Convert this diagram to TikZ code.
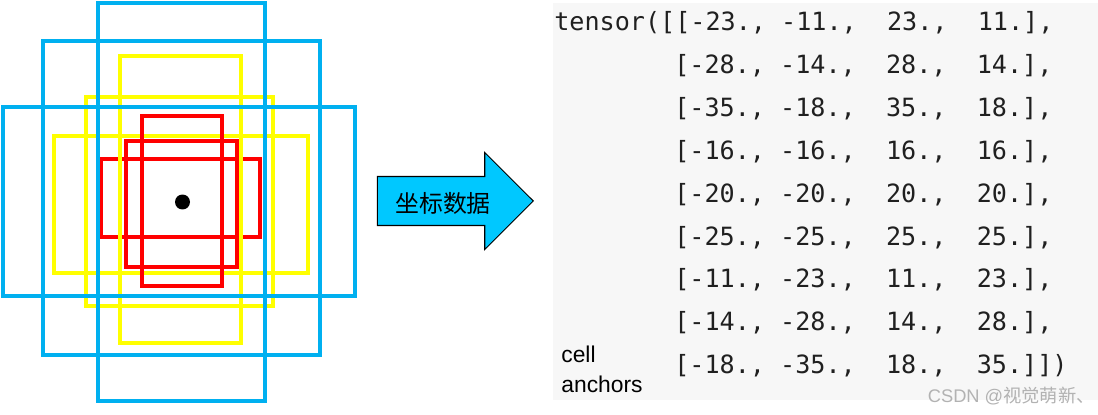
\documentclass[tikz,border=0pt]{standalone}
\usepackage{fontspec}
\setmainfont{Liberation Sans}
\setmonofont{DejaVu Sans Mono}
\newfontfamily\cjk{Noto Sans CJK SC}
\usepackage{xcolor}
\usepackage{tikz}
\usetikzlibrary{shapes.arrows, positioning}

\definecolor{anchorblue}{RGB}{0,176,240}
\definecolor{anchoryellow}{RGB}{255,255,0}
\definecolor{anchorred}{RGB}{255,0,0}
\definecolor{arrowcyan}{RGB}{0,200,255}
\definecolor{panelgray}{RGB}{247,247,247}
\definecolor{codeink}{RGB}{32,32,32}

\begin{document}
\begin{tikzpicture}[x=0.02cm, y=-0.02cm,
    anchorbox/.style={line width=2.2pt},
    coderow/.style={anchor=base west, inner sep=0pt, text=codeink,
        font=\ttfamily\fontsize{14.3pt}{17pt}\selectfont},
    bigarrow/.style={single arrow, draw=black, fill=arrowcyan, line width=0.6pt,
        single arrow tip angle=90, single arrow head extend=0.48cm,
        minimum height=3.12cm, inner sep=0pt, text height=0.48cm, text depth=0.48cm}]
    \useasboundingbox (0,0) rectangle (1098,415);

    % 1. Các khung anchor (vàng, đỏ, xanh) quanh tâm ô
    \foreach \c/\xa/\ya/\xb/\yb in {anchoryellow/86/97/273/306, anchoryellow/54/136/308/273,
        anchorred/142/116/222/286, anchorred/126/141/237/267, anchorred/101/159/260/237,
        anchoryellow/120/56/241/343,
        anchorblue/98/3/265/401, anchorblue/43/41/320/355, anchorblue/3/107/355/296} {
        \draw[anchorbox, \c] (\xa,\ya) rectangle (\xb,\yb);
    }
    \coordinate (ctr) at (182.5,202);
    \fill[black] (ctr) circle (0.15cm);

    % 2. Mũi tên
    \node[bigarrow] (arr) at (443,201) {};
    \node[inner sep=0pt, font=\cjk\fontsize{13.6pt}{14pt}\selectfont] (lbl) at (443,203) {坐标数据};

    % 3. Khung tensor
    \fill[panelgray] (553,3) rectangle (1098,400);
    \node[coderow] (r0) at (554,31) {tensor([[-23.,~-11.,~~23.,~~11.],};
    \foreach \i/\w/\h in {1/28/14, 2/35/18, 3/16/16, 4/20/20, 5/25/25, 6/11/23, 7/14/28} {
        \node[coderow] (r\i) at (674, 31+42.8*\i) {[-\w.,~-\h.,~~\w.,~~\h.],};
    }
    \node[coderow] (r8) at (674, 31+42.8*8) {[-18.,~-35.,~~18.,~~35.]])};

    % 4. Nhãn
    \node[anchor=north west, inner sep=0pt, align=left, font=\fontsize{13pt}{17pt}\selectfont] (cell) at (561,346) {cell\\anchors};
    \node[anchor=base east, inner sep=0pt, text=black!30, font=\fontsize{10.4pt}{12pt}\selectfont] (wm) at (1095,402) {CSDN @{\cjk 视觉萌新、}};

\end{tikzpicture}
\end{document}
